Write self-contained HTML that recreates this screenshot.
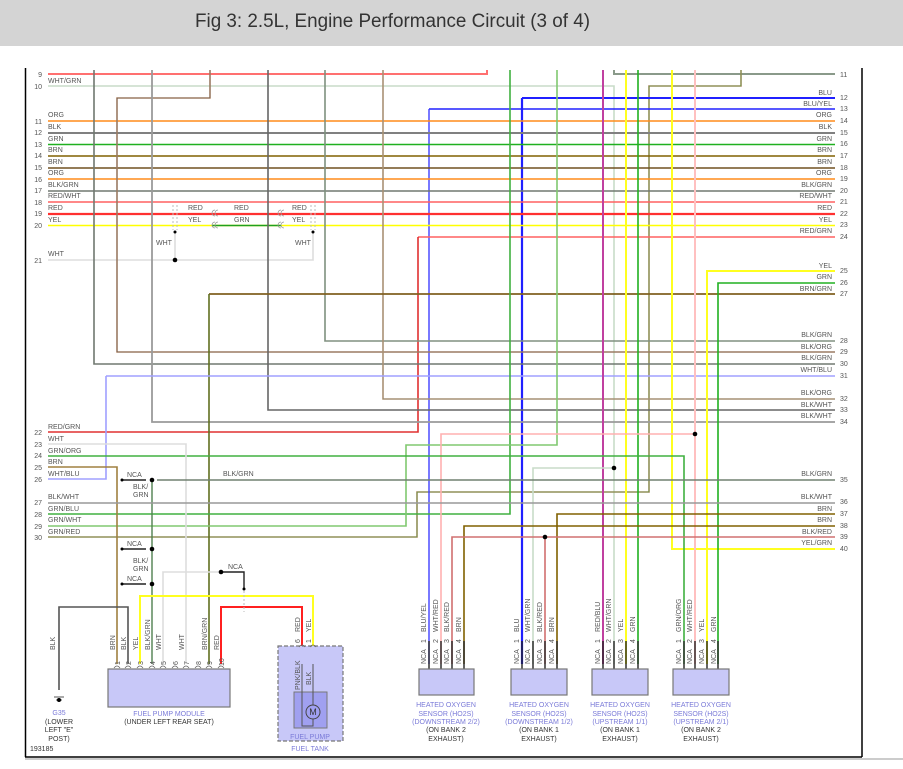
<!DOCTYPE html>
<html><head><meta charset="utf-8"><style>
html,body{margin:0;padding:0;background:#fff;width:903px;height:769px;overflow:hidden}
svg{display:block}
text{font-family:"Liberation Sans",sans-serif;font-size:7px;fill:#555}
.n{fill:#666}
.s{fill:#7a7ad8;font-size:7px}
.k{fill:#333;font-size:7px}
</style></head><body>
<svg width="903" height="769" viewBox="0 0 903 769" xmlns="http://www.w3.org/2000/svg">
<rect x="0" y="0" width="903" height="46" fill="#d4d4d4"/>
<text x="195" y="27" style="font-size:19px;fill:#333" textLength="395" lengthAdjust="spacingAndGlyphs">Fig 3: 2.5L, Engine Performance Circuit (3 of 4)</text>
<line x1="25.5" y1="68" x2="25.5" y2="757" stroke="#000" stroke-width="1.5"/>
<line x1="862" y1="68" x2="862" y2="757" stroke="#000" stroke-width="1.5"/>
<line x1="25" y1="757" x2="862" y2="757" stroke="#000" stroke-width="1.5"/>
<line x1="25" y1="759" x2="903" y2="759" stroke="#ccc" stroke-width="2"/>

<g fill="none" stroke-width="1.6">
<!-- top stub lines -->
<path d="M48 74H487V70" stroke="#ff7070" stroke-width="2"/>
<path d="M48 86H614V664" stroke="#c8dcc8" stroke-width="1.6"/>
<path d="M614 70V74H835" stroke="#8a9a8a" stroke-width="2"/>
<path d="M741 70V86H649V492H417V537H48" stroke="#e07070" stroke-width="1.6"/>
<path d="M741 70V86H649V492H417V537H48" stroke="#40b040" stroke-width="0.8"/>
<path d="M522 98H835" stroke="#2020ff" stroke-width="2"/>
<path d="M522 98V664" stroke="#2020ff" stroke-width="2.2"/>
<path d="M429 109H835" stroke="#2020ff" stroke-width="1.4"/>
<path d="M429 109V664" stroke="#4040ff" stroke-width="1.4"/>
<!-- full width rows -->
<line x1="48" y1="121" x2="835" y2="121" stroke="#ff8c1a"/>
<line x1="48" y1="133" x2="835" y2="133" stroke="#808080" stroke-width="2"/>
<line x1="48" y1="144.5" x2="835" y2="144.5" stroke="#20b020"/>
<line x1="48" y1="156" x2="835" y2="156" stroke="#806000"/>
<line x1="48" y1="168" x2="835" y2="168" stroke="#705020"/>
<line x1="48" y1="179" x2="835" y2="179" stroke="#ff8c1a"/>
<line x1="48" y1="191" x2="835" y2="191" stroke="#707870"/>
<line x1="48" y1="202" x2="835" y2="202" stroke="#ff6060"/>
<line x1="48" y1="214" x2="835" y2="214" stroke="#ff3030" stroke-width="2.2"/>
<line x1="48" y1="225.5" x2="835" y2="225.5" stroke="#ffff00"/>
<line x1="212" y1="225.5" x2="281" y2="225.5" stroke="#20a020" stroke-width="1.6"/>
<path d="M418 237H835" stroke="#ff6060"/>
<path d="M418 237V432H48" stroke="#e03030"/>
<path d="M48 260H313V232" stroke="#ddd"/>
<path d="M175 260V232" stroke="#ddd"/>
<!-- verticals from top -->
<path d="M94 70V364H835" stroke="#707870"/>
<path d="M210 70V98H117V352H835" stroke="#e0a070"/>
<path d="M210 70V98H117V352H835" stroke="#555" stroke-width="0.8"/>
<path d="M152 70V422H835" stroke="#9a9a9a" stroke-width="1.8"/>
<path d="M268 70V410H835" stroke="#666"/>
<path d="M325 70V341H835" stroke="#70a070"/>
<path d="M325 70V341H835" stroke="#888" stroke-width="1"/>
<path d="M383 70V399H835" stroke="#e0a070"/>
<path d="M383 70V399H835" stroke="#887" stroke-width="1"/>
<path d="M209 294H835" stroke="#806020" stroke-width="1.8"/>
<path d="M209 294V664" stroke="#607020" stroke-width="1.6"/>
<path d="M106 376H835" stroke="#a0a0ff"/>
<path d="M106 376V479H48" stroke="#a0a0ff"/>
<path d="M510 70V514H48" stroke="#40b040" stroke-width="1.6"/>
<path d="M557 70V445H406V526H48" stroke="#80c870" stroke-width="1.6"/>
<path d="M603 70V664" stroke="#c040a0" stroke-width="2"/>
<path d="M626 70V664" stroke="#ffff20" stroke-width="2"/>
<path d="M638 70V664" stroke="#20b020" stroke-width="1.6"/>
<path d="M672 70V549H835" stroke="#ffff20" stroke-width="2"/>
<path d="M695 70V664" stroke="#ffc0c0" stroke-width="2"/>
<path d="M695 434H441V664" stroke="#ffb0b0" stroke-width="1.6"/>
<path d="M835 271H707V664" stroke="#ffff20" stroke-width="2"/>
<path d="M835 283H718V664" stroke="#20b020" stroke-width="1.6"/>
<path d="M614 468H533V664" stroke="#c8dcc8" stroke-width="1.6"/>
<path d="M48 456H684V664" stroke="#40b040" stroke-width="1.6"/>
<path d="M48 444H186V664" stroke="#ddd" stroke-width="1.6"/>
<path d="M48 467H117V664" stroke="#a08040" stroke-width="1.6"/>
<path d="M157 480H835" stroke="#708070" stroke-width="1.6"/>
<path d="M152 480V664" stroke="#508050" stroke-width="1.4"/>
<line x1="48" y1="503" x2="835" y2="503" stroke="#999" stroke-width="1.6"/>
<path d="M835 514H557V664" stroke="#806000" stroke-width="1.6"/>
<path d="M835 526H464V664" stroke="#806000" stroke-width="1.6"/>
<path d="M835 537H452V664" stroke="#d07070" stroke-width="1.6"/>
<path d="M545 537V664" stroke="#d07070" stroke-width="1.6"/>
<!-- fuel pump area -->
<path d="M163 664V572H221" stroke="#ddd" stroke-width="1.6"/>
<path d="M140 664V596H313V664" stroke="#ffff20" stroke-width="2"/>
<path d="M221 664V607H302V664" stroke="#ff2020" stroke-width="2"/>
<path d="M128 664V607H59V690" stroke="#555" stroke-width="1.6"/>
<path d="M221 572H244V589" stroke="#222" stroke-width="1.4"/>
<path d="M122 480H146M122 549H146M122 584H146" stroke="#222" stroke-width="1.4"/>
</g>
<!-- dashed connectors -->
<g fill="none" stroke="#bbb" stroke-width="1" stroke-dasharray="2,2">
<path d="M244 591V612M173 205V230M177 205V230M311 205V230M315 205V230"/>
</g>
<g fill="none" stroke="#999" stroke-width="0.8">
<path d="M215 210a3 3 0 0 0 0 6M218 210a3 3 0 0 0 0 6M215 222a3 3 0 0 0 0 6M218 222a3 3 0 0 0 0 6"/>
<path d="M281 210a3 3 0 0 0 0 6M284 210a3 3 0 0 0 0 6M281 222a3 3 0 0 0 0 6M284 222a3 3 0 0 0 0 6"/>
</g>
<g fill="#000">
<circle cx="175" cy="260" r="2.3"/><circle cx="152" cy="480" r="2.3"/><circle cx="152" cy="549" r="2.3"/><circle cx="152" cy="584" r="2.3"/>
<circle cx="221" cy="572" r="2.3"/><circle cx="695" cy="434" r="2.3"/><circle cx="614" cy="468" r="2.3"/><circle cx="545" cy="537" r="2.3"/>
<circle cx="122" cy="480" r="1.5"/><circle cx="122" cy="549" r="1.5"/><circle cx="122" cy="584" r="1.5"/><circle cx="244" cy="589" r="1.5"/>
<circle cx="175" cy="232" r="1.5"/><circle cx="313" cy="232" r="1.5"/>
</g>
<!-- left labels -->
<g>
<text x="48" y="83">WHT/GRN</text>
<text x="48" y="117">ORG</text><text x="48" y="129">BLK</text><text x="48" y="141">GRN</text><text x="48" y="152">BRN</text><text x="48" y="164">BRN</text><text x="48" y="175">ORG</text><text x="48" y="187">BLK/GRN</text><text x="48" y="198">RED/WHT</text><text x="48" y="210">RED</text><text x="48" y="222">YEL</text>
<text x="48" y="256">WHT</text>
<text x="48" y="429">RED/GRN</text><text x="48" y="441">WHT</text><text x="48" y="453">GRN/ORG</text><text x="48" y="464">BRN</text><text x="48" y="476">WHT/BLU</text>
<text x="48" y="499">BLK/WHT</text><text x="48" y="511">GRN/BLU</text><text x="48" y="522">GRN/WHT</text><text x="48" y="534">GRN/RED</text>
<text x="188" y="210">RED</text><text x="188" y="222">YEL</text><text x="234" y="210">RED</text><text x="234" y="222">GRN</text><text x="292" y="210">RED</text><text x="292" y="222">YEL</text>
<text x="156" y="245">WHT</text><text x="295" y="245">WHT</text>
<text x="223" y="476">BLK/GRN</text>
<text x="127" y="477">NCA</text><text x="127" y="546">NCA</text><text x="127" y="581">NCA</text><text x="228" y="569">NCA</text>
<text x="133" y="489">BLK/</text><text x="133" y="497">GRN</text><text x="133" y="563">BLK/</text><text x="133" y="571">GRN</text>
</g>
<g class="n" text-anchor="end">
<text x="42" y="77">9</text><text x="42" y="89">10</text><text x="42" y="124">11</text><text x="42" y="135">12</text><text x="42" y="147">13</text><text x="42" y="158">14</text><text x="42" y="170">15</text><text x="42" y="182">16</text><text x="42" y="193">17</text><text x="42" y="205">18</text><text x="42" y="216">19</text><text x="42" y="228">20</text><text x="42" y="263">21</text>
<text x="42" y="435">22</text><text x="42" y="447">23</text><text x="42" y="458">24</text><text x="42" y="470">25</text><text x="42" y="482">26</text><text x="42" y="505">27</text><text x="42" y="517">28</text><text x="42" y="529">29</text><text x="42" y="540">30</text>
</g>
<!-- right labels -->
<g text-anchor="end">
<text x="832" y="95">BLU</text><text x="832" y="106">BLU/YEL</text><text x="832" y="117">ORG</text><text x="832" y="129">BLK</text><text x="832" y="141">GRN</text><text x="832" y="152">BRN</text><text x="832" y="164">BRN</text><text x="832" y="175">ORG</text><text x="832" y="187">BLK/GRN</text><text x="832" y="198">RED/WHT</text><text x="832" y="210">RED</text><text x="832" y="222">YEL</text><text x="832" y="233">RED/GRN</text>
<text x="832" y="268">YEL</text><text x="832" y="279">GRN</text><text x="832" y="291">BRN/GRN</text>
<text x="832" y="337">BLK/GRN</text><text x="832" y="349">BLK/ORG</text><text x="832" y="360">BLK/GRN</text><text x="832" y="372">WHT/BLU</text>
<text x="832" y="395">BLK/ORG</text><text x="832" y="407">BLK/WHT</text><text x="832" y="418">BLK/WHT</text>
<text x="832" y="476">BLK/GRN</text><text x="832" y="499">BLK/WHT</text><text x="832" y="511">BRN</text><text x="832" y="522">BRN</text><text x="832" y="534">BLK/RED</text><text x="832" y="545">YEL/GRN</text>
</g>
<g class="n">
<text x="840" y="77">11</text><text x="840" y="100">12</text><text x="840" y="111">13</text><text x="840" y="123">14</text><text x="840" y="135">15</text><text x="840" y="146">16</text><text x="840" y="158">17</text><text x="840" y="170">18</text><text x="840" y="181">19</text><text x="840" y="193">20</text><text x="840" y="204">21</text><text x="840" y="216">22</text><text x="840" y="227">23</text><text x="840" y="239">24</text>
<text x="840" y="273">25</text><text x="840" y="285">26</text><text x="840" y="296">27</text><text x="840" y="343">28</text><text x="840" y="354">29</text><text x="840" y="366">30</text><text x="840" y="378">31</text><text x="840" y="401">32</text><text x="840" y="412">33</text><text x="840" y="424">34</text>
<text x="840" y="482">35</text><text x="840" y="504">36</text><text x="840" y="516">37</text><text x="840" y="528">38</text><text x="840" y="539">39</text><text x="840" y="551">40</text>
</g>

<!-- fuel pump module -->
<rect x="108" y="669" width="122" height="38" fill="#c8c8f8" stroke="#777" stroke-width="1.2"/>
<g fill="none" stroke="#666" stroke-width="0.8">
<path d="M114 668q3-4 6 0M125 668q3-4 6 0M137 668q3-4 6 0M149 668q3-4 6 0M160 668q3-4 6 0M172 668q3-4 6 0M183 668q3-4 6 0M195 668q3-4 6 0M206 668q3-4 6 0M218 668q3-4 6 0"/>
</g>
<g class="k">
<text transform="translate(120,665) rotate(-90)">1</text><text transform="translate(131,665) rotate(-90)">2</text><text transform="translate(143,665) rotate(-90)">3</text><text transform="translate(155,665) rotate(-90)">4</text><text transform="translate(166,665) rotate(-90)">5</text><text transform="translate(178,665) rotate(-90)">6</text><text transform="translate(189,665) rotate(-90)">7</text><text transform="translate(201,665) rotate(-90)">8</text><text transform="translate(212,665) rotate(-90)">9</text><text transform="translate(224,666) rotate(-90)">10</text>
<text transform="translate(115,650) rotate(-90)">BRN</text><text transform="translate(126,650) rotate(-90)">BLK</text><text transform="translate(138,650) rotate(-90)">YEL</text><text transform="translate(150,650) rotate(-90)">BLK/GRN</text><text transform="translate(161,650) rotate(-90)">WHT</text><text transform="translate(184,650) rotate(-90)">WHT</text><text transform="translate(207,650) rotate(-90)">BRN/GRN</text><text transform="translate(219,650) rotate(-90)">RED</text>
<text transform="translate(55,650) rotate(-90)">BLK</text>
</g>
<text class="s" x="169" y="716" text-anchor="middle">FUEL PUMP MODULE</text>
<text class="k" x="169" y="724" text-anchor="middle">(UNDER LEFT REAR SEAT)</text>
<!-- ground -->
<path d="M54 697h10M56 700h6" stroke="#555" stroke-width="1"/>
<circle cx="59" cy="700" r="2" fill="#000"/>
<text class="s" x="59" y="715" text-anchor="middle">G35</text>
<text class="k" x="59" y="724" text-anchor="middle">(LOWER</text>
<text class="k" x="59" y="732" text-anchor="middle">LEFT "E"</text>
<text class="k" x="59" y="741" text-anchor="middle">POST)</text>
<text class="k" x="30" y="751">193185</text>
<!-- fuel pump -->
<rect x="278" y="646" width="65" height="95" fill="#c8c8f8" stroke="#777" stroke-width="1.2" stroke-dasharray="4,2"/>
<rect x="294" y="692" width="33" height="36" fill="#a0a0f0" stroke="#777"/>
<path d="M302 664V726H313V664" fill="none" stroke="#555" stroke-width="1"/>
<circle cx="313" cy="712" r="7" fill="#a0a0f0" stroke="#444"/>
<text x="313" y="715" text-anchor="middle" style="font-size:9px;fill:#333">M</text>
<g fill="none" stroke="#666" stroke-width="0.8"><path d="M299 647q3-4 6 0M310 647q3-4 6 0"/></g>
<g class="k">
<text transform="translate(300,643) rotate(-90)">6</text><text transform="translate(311,643) rotate(-90)">1</text>
<text transform="translate(300,632) rotate(-90)">RED</text><text transform="translate(311,632) rotate(-90)">YEL</text>
<text transform="translate(300,690) rotate(-90)">PNK/BLK</text><text transform="translate(311,685) rotate(-90)">BLK</text>
</g>
<text class="s" x="310" y="739" text-anchor="middle">FUEL PUMP</text>
<text class="s" x="310" y="751" text-anchor="middle">FUEL TANK</text>

<!-- sensors -->
<g stroke="#222" stroke-width="1.4">
<path d="M429 641V669M441 641V669M452 641V669M464 641V669"/>
<path d="M522 641V669M533 641V669M545 641V669M557 641V669"/>
<path d="M603 641V669M614 641V669M626 641V669M638 641V669"/>
<path d="M684 641V669M695 641V669M707 641V669M718 641V669"/>
</g>
<g fill="#c8c8f8" stroke="#777" stroke-width="1.2">
<rect x="419" y="669" width="55" height="26"/><rect x="511" y="669" width="56" height="26"/><rect x="592" y="669" width="56" height="26"/><rect x="673" y="669" width="56" height="26"/>
</g>
<g class="k">
<text transform="translate(426,664) rotate(-90)">NCA</text><text transform="translate(438,664) rotate(-90)">NCA</text><text transform="translate(449,664) rotate(-90)">NCA</text><text transform="translate(461,664) rotate(-90)">NCA</text>
<text transform="translate(519,664) rotate(-90)">NCA</text><text transform="translate(530,664) rotate(-90)">NCA</text><text transform="translate(542,664) rotate(-90)">NCA</text><text transform="translate(554,664) rotate(-90)">NCA</text>
<text transform="translate(600,664) rotate(-90)">NCA</text><text transform="translate(611,664) rotate(-90)">NCA</text><text transform="translate(623,664) rotate(-90)">NCA</text><text transform="translate(635,664) rotate(-90)">NCA</text>
<text transform="translate(681,664) rotate(-90)">NCA</text><text transform="translate(692,664) rotate(-90)">NCA</text><text transform="translate(704,664) rotate(-90)">NCA</text><text transform="translate(716,664) rotate(-90)">NCA</text>
<text transform="translate(426,643) rotate(-90)">1</text><text transform="translate(438,643) rotate(-90)">2</text><text transform="translate(449,643) rotate(-90)">3</text><text transform="translate(461,643) rotate(-90)">4</text>
<text transform="translate(519,643) rotate(-90)">1</text><text transform="translate(530,643) rotate(-90)">2</text><text transform="translate(542,643) rotate(-90)">3</text><text transform="translate(554,643) rotate(-90)">4</text>
<text transform="translate(600,643) rotate(-90)">1</text><text transform="translate(611,643) rotate(-90)">2</text><text transform="translate(623,643) rotate(-90)">3</text><text transform="translate(635,643) rotate(-90)">4</text>
<text transform="translate(681,643) rotate(-90)">1</text><text transform="translate(692,643) rotate(-90)">2</text><text transform="translate(704,643) rotate(-90)">3</text><text transform="translate(716,643) rotate(-90)">4</text>
<text transform="translate(426,632) rotate(-90)">BLU/YEL</text><text transform="translate(438,632) rotate(-90)">WHT/RED</text><text transform="translate(449,632) rotate(-90)">BLK/RED</text><text transform="translate(461,632) rotate(-90)">BRN</text>
<text transform="translate(519,632) rotate(-90)">BLU</text><text transform="translate(530,632) rotate(-90)">WHT/GRN</text><text transform="translate(542,632) rotate(-90)">BLK/RED</text><text transform="translate(554,632) rotate(-90)">BRN</text>
<text transform="translate(600,632) rotate(-90)">RED/BLU</text><text transform="translate(611,632) rotate(-90)">WHT/GRN</text><text transform="translate(623,632) rotate(-90)">YEL</text><text transform="translate(635,632) rotate(-90)">GRN</text>
<text transform="translate(681,632) rotate(-90)">GRN/ORG</text><text transform="translate(692,632) rotate(-90)">WHT/RED</text><text transform="translate(704,632) rotate(-90)">YEL</text><text transform="translate(716,632) rotate(-90)">GRN</text>
</g>
<g text-anchor="middle">
<text class="s" x="446" y="707">HEATED OXYGEN</text><text class="s" x="446" y="716">SENSOR (HO2S)</text><text class="s" x="446" y="724">(DOWNSTREAM 2/2)</text><text class="k" x="446" y="732">(ON BANK 2</text><text class="k" x="446" y="741">EXHAUST)</text>
<text class="s" x="539" y="707">HEATED OXYGEN</text><text class="s" x="539" y="716">SENSOR (HO2S)</text><text class="s" x="539" y="724">(DOWNSTREAM 1/2)</text><text class="k" x="539" y="732">(ON BANK 1</text><text class="k" x="539" y="741">EXHAUST)</text>
<text class="s" x="620" y="707">HEATED OXYGEN</text><text class="s" x="620" y="716">SENSOR (HO2S)</text><text class="s" x="620" y="724">(UPSTREAM 1/1)</text><text class="k" x="620" y="732">(ON BANK 1</text><text class="k" x="620" y="741">EXHAUST)</text>
<text class="s" x="701" y="707">HEATED OXYGEN</text><text class="s" x="701" y="716">SENSOR (HO2S)</text><text class="s" x="701" y="724">(UPSTREAM 2/1)</text><text class="k" x="701" y="732">(ON BANK 2</text><text class="k" x="701" y="741">EXHAUST)</text>
</g>
</svg>
</body></html>
